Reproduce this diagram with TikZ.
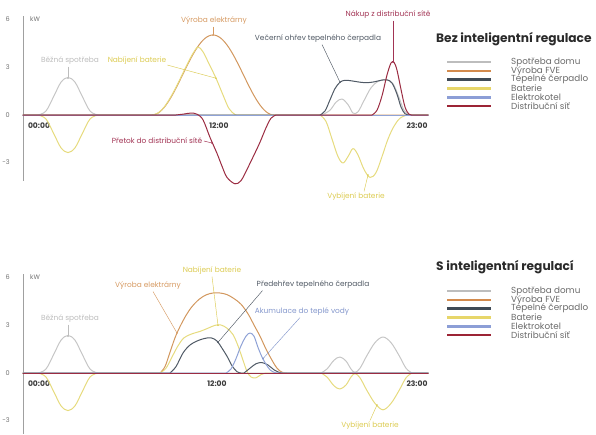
\documentclass[tikz,border=0pt]{standalone}
\usepackage{fontspec}
\setmainfont{Poppins}
\definecolor{cSp}{HTML}{C6C6C6}
\definecolor{cFv}{HTML}{D2975E}
\definecolor{cTc}{HTML}{505A66}
\definecolor{cBa}{HTML}{E6DB7E}
\definecolor{cEk}{HTML}{8FA2D6}
\definecolor{cDs}{HTML}{9B2C42}
\definecolor{cAx}{HTML}{A0A0A0}
\definecolor{cNum}{HTML}{707070}
\definecolor{cTime}{HTML}{3A3A3A}
\definecolor{tSp}{HTML}{BDBDBD}
\definecolor{tBa}{HTML}{DCCB52}
\definecolor{tFv}{HTML}{D69A62}
\definecolor{tDs}{HTML}{A23454}
\definecolor{tTc}{HTML}{4F5863}
\definecolor{tEk}{HTML}{8497CC}
\definecolor{tLeg}{HTML}{6A6A6A}
\definecolor{tTitle}{HTML}{2A2A2A}
\definecolor{lSp}{HTML}{BDBDBD}
\definecolor{lFv}{HTML}{D38B4E}
\definecolor{lTc}{HTML}{3F4A56}
\definecolor{lBa}{HTML}{E7D66A}
\definecolor{lEk}{HTML}{8C9ED6}
\definecolor{lDs}{HTML}{9C2435}
\begin{document}
\begin{tikzpicture}[x=1pt,y=-1pt,
 crv/.style={line width=1.0pt,line join=round,line cap=round},
 lbl/.style={font=\fontsize{7.4}{8}\selectfont,inner sep=0pt},
 num/.style={font=\fontsize{6.5}{7}\selectfont,inner sep=0pt,text=cNum,anchor=east},
 tim/.style={font=\bfseries\fontsize{7.6}{8}\selectfont,inner sep=0pt,text=cTime},
 ldr/.style={line width=0.45pt},
 leg/.style={font=\fontsize{8.8}{10}\selectfont,inner sep=0pt,anchor=west,text=tLeg},
 sw/.style={line width=2.6pt},
 ttl/.style={font=\bfseries\fontsize{12.2}{14}\selectfont,inner sep=0pt,anchor=west,text=tTitle},
 sm/.style={smooth,tension=0.55},
 axl/.style={cAx,line width=0.8pt}]
\useasboundingbox (0,0) rectangle (596,434);

% ================= TOP CHART =================
\draw[axl] (23,16) -- (23,181);
\draw[axl] (23,115) -- (428,115);
\node[num] (n6A) at (10,19) {6};
\node[num] (n3A) at (10,67) {3};
\node[num] (n0A) at (10,115) {0};
\node[num] (nm3A) at (10,162) {-3};
\node[num,anchor=west] (kwA) at (30,19) {kW};
\node[tim] (t0A) at (39,126) {00:00};
\node[tim] (t12A) at (219,126) {12:00};
\node[tim] (t23A) at (417,126) {23:00};

\begin{scope}[yshift=-115pt,y=16pt]
\draw[crv,cFv] (23,0) -- (152,0) -- plot[domain=152:274,samples=61] (\x,{2.5*(1-cos(2.9508*(\x-152)))}) -- (428,0);
\draw[crv,cBa] (23,0) -- plot[sm] coordinates {(38,0) (46,-0.25) (54,-1.2) (61,-2.05) (68,-2.35) (75,-2.05) (82,-1.2) (90,-0.25) (98,0)}
 -- plot[sm] coordinates {(152,0) (158,0.12) (164,0.48) (170,1.05) (176,1.73) (182,2.5) (188,3.27) (193,3.85) (198,4.25) (203,3.95) (209,3.2) (216,2.3) (223,1.25) (229,0.4) (235,0.03) (238,0)}
 -- plot[sm] coordinates {(320,0) (326,-0.4) (332,-1.5) (338,-2.6) (343,-3.0) (348,-2.6) (353,-2.1) (358,-2.5) (364,-3.4) (370,-3.9) (376,-3.6) (382,-2.6) (388,-1.5) (394,-0.7) (400,-0.2) (407,0)} -- (428,0);
\draw[crv,cSp] (23,0) -- plot[sm] coordinates {(38,0) (46,0.25) (54,1.2) (61,2.05) (68,2.35) (75,2.05) (82,1.2) (90,0.25) (98,0)}
 -- plot[sm] coordinates {(322,0) (330,0.3) (336,0.8) (342,1.0) (348,0.65) (353,0.12) (358,0.2) (364,0.9) (371,1.7) (378,2.1) (386,2.2) (393,1.95) (399,1.1) (404,0.3) (410,0)} -- (428,0);
\draw[crv,cTc] (23,0) -- plot[sm] coordinates {(320,0) (325,0.25) (330,0.95) (335,1.65) (340,2.05) (345,2.17) (352,2.13) (360,2.05) (367,2.02) (374,2.07) (381,2.17) (387,2.2) (392,2.0) (397,1.3) (401,0.5) (405,0.08) (409,0)} -- (428,0);
\draw[crv,cEk] (23,0) -- (428,0);
\draw[crv,cDs] (23,0) -- plot[sm] coordinates {(176,0) (184,0.06) (191,0.12) (197,0.05) (203,-0.3) (210,-1.4) (217,-2.4) (222,-3.2) (227,-3.9) (235,-4.3) (241,-4.1) (247,-3.4) (254,-2.5) (260,-1.7) (266,-0.8) (271,-0.2) (276,0)}
 -- plot[sm] coordinates {(372,0) (377,0.3) (382,1.2) (387,2.5) (391,3.25) (394,3.3) (397,2.8) (401,1.6) (405,0.5) (409,0.05) (413,0)} -- (428,0);
\coordinate (pBsA) at (68,2.3);
\coordinate (pNbA) at (216,2.3);
\coordinate (pVeA) at (213,5.0);
\coordinate (pPtA) at (212,-1.75);
\coordinate (pVoA) at (340,2.05);
\coordinate (pNkA) at (393,3.3);
\coordinate (pVbA) at (368,-3.75);
\end{scope}

\node[lbl,text=tSp] (tBsA) at (70,61) {Běžná spotřeba};
\node[lbl,text=tBa] (tNbA) at (137,61) {Nabíjení baterie};
\node[lbl,text=tFv] (tVeA) at (214,21) {Výroba elektrárny};
\node[lbl,text=tDs] (tPtA) at (157,141) {Přetok do distribuční sítě};
\node[lbl,text=tTc] (tVoA) at (318,39) {Večerní ohřev tepelného čerpadla};
\node[lbl,text=tDs] (tNkA) at (388,15) {Nákup z distribuční sítě};
\node[lbl,text=tBa] (tVbA) at (356,197) {Vybíjení baterie};
\draw[ldr,tSp] ([yshift=-1.5pt]pBsA |- tBsA.south) -- (pBsA);
\fill[tSp] (pBsA) circle (0.9pt);
\draw[ldr,tBa] ([xshift=1pt]tNbA.south east) -- (pNbA);
\fill[tBa] (pNbA) circle (0.9pt);
\draw[ldr,tFv] ([yshift=-1.5pt]pVeA |- tVeA.south) -- (pVeA);
\fill[tFv] (pVeA) circle (0.9pt);
\draw[ldr,tDs] ([xshift=1.5pt]tPtA.east) -- (pPtA);
\fill[tDs] (pPtA) circle (0.9pt);
\draw[ldr,tTc] ([xshift=4pt,yshift=-1.5pt]tVoA.south) -- (pVoA);
\fill[tTc] (pVoA) circle (0.9pt);
\draw[ldr,tDs] ([yshift=-1.5pt]pNkA |- tNkA.south) -- (pNkA);
\fill[tDs] (pNkA) circle (0.9pt);
\draw[ldr,tBa] ([xshift=8pt,yshift=1.5pt]tVbA.north) -- (pVbA);
\fill[tBa] (pVbA) circle (0.9pt);

% legend top
\node[ttl] (ttlA) at (436,39) {Bez inteligentní regulace};
\draw[sw,lSp] (447,62) -- (491,62);
\draw[sw,lFv] (447,70.8) -- (491,70.8);
\draw[sw,lTc] (447,79.6) -- (491,79.6);
\draw[sw,lBa] (447,88.4) -- (491,88.4);
\draw[sw,lEk] (447,97.2) -- (491,97.2);
\draw[sw,lDs] (447,106) -- (491,106);
\node[leg] (lA1) at (511,62) {Spotřeba domu};
\node[leg] (lA2) at (511,70.8) {Výroba FVE};
\node[leg] (lA3) at (511,79.6) {Tepelné čerpadlo};
\node[leg] (lA4) at (511,88.4) {Baterie};
\node[leg] (lA5) at (511,97.2) {Elektrokotel};
\node[leg] (lA6) at (511,106) {Distribuční síť};

% ================= BOTTOM CHART =================
\draw[axl] (23,274) -- (23,434);
\draw[axl] (23,373) -- (428,373);
\node[num] (n6B) at (10,277) {6};
\node[num] (n3B) at (10,325) {3};
\node[num] (n0B) at (10,373) {0};
\node[num] (nm3B) at (10,420) {-3};
\node[num,anchor=west] (kwB) at (30,277) {kW};
\node[tim] (t0B) at (39,384) {00:00};
\node[tim] (t12B) at (217,384) {12:00};
\node[tim] (t23B) at (417,384) {23:00};

\begin{scope}[yshift=-373pt,y=16pt]
\draw[crv,cFv] (23,0) -- plot[sm] coordinates {(160,0) (165,0.4) (170,1.3) (175,2.2) (180,2.9) (186,3.6) (192,4.15) (199,4.6) (206,4.88) (213,5.0) (220,5.0) (227,4.9) (234,4.65) (241,4.3) (248,3.7) (254,3.0) (260,2.3) (266,1.5) (272,0.8) (277,0.3) (282,0.05) (287,0)} -- (428,0);
\draw[crv,cBa] (23,0) -- plot[sm] coordinates {(38,0) (46,-0.25) (54,-1.2) (61,-2.05) (68,-2.35) (75,-2.05) (82,-1.2) (90,-0.25) (98,0)}
 -- plot[sm] coordinates {(160,0) (166,0.3) (172,1.0) (178,1.7) (184,2.2) (192,2.45) (200,2.6) (208,2.8) (215,2.98) (221,3.0) (227,2.8) (233,2.4) (238,1.7) (243,0.8) (247,0.1) (251,-0.25) (256,-0.3) (261,-0.1) (266,0)}
 -- plot[sm] coordinates {(321,0) (327,-0.25) (334,-0.8) (340,-1.0) (346,-0.75) (351,-0.25) (355,-0.04) (360,-0.3) (367,-1.1) (375,-1.9) (383,-2.3) (391,-1.9) (399,-1.1) (406,-0.3) (412,0)} -- (428,0);
\draw[crv,cSp] (23,0) -- plot[sm] coordinates {(38,0) (46,0.25) (54,1.2) (61,2.05) (68,2.35) (75,2.05) (82,1.2) (90,0.25) (98,0)}
 -- plot[sm] coordinates {(321,0) (327,0.25) (334,0.8) (340,1.0) (346,0.75) (351,0.25) (355,0.04) (360,0.3) (367,1.1) (375,1.9) (383,2.25) (391,1.9) (399,1.1) (406,0.3) (412,0)} -- (428,0);
\draw[crv,cTc] (23,0) -- plot[sm] coordinates {(170,0) (176,0.4) (183,1.25) (190,1.75) (197,2.0) (204,2.15) (211,2.2) (217,2.0) (222,1.55) (227,1.05) (232,0.45) (237,0.08) (241,0)}
 -- plot[sm] coordinates {(244,0) (250,0.3) (256,0.58) (262,0.65) (268,0.5) (274,0.2) (280,0.02) (284,0)} -- (428,0);
\draw[crv,cEk] (23,0) -- plot[sm] coordinates {(226,0) (231,0.25) (236,0.9) (241,1.7) (246,2.3) (250,2.5) (254,2.3) (258,1.6) (262,1.0) (266,0.55) (270,0.2) (275,0.02) (280,0)} -- (428,0);
\draw[crv,cDs] (23,0) -- (428,0);
\coordinate (pBsB) at (68,2.3);
\coordinate (pVeB) at (177,2.5);
\coordinate (pNbB) at (218,2.98);
\coordinate (pPhB) at (218,1.92);
\coordinate (pAkB) at (263,0.9);
\coordinate (pVbB) at (377,-2.0);
\end{scope}

\node[lbl,text=tSp] (tBsB) at (70,319) {Běžná spotřeba};
\node[lbl,text=tFv] (tVeB) at (148,286) {Výroba elektrárny};
\node[lbl,text=tBa] (tNbB) at (212,271) {Nabíjení baterie};
\node[lbl,text=tTc] (tPhB) at (313,285) {Předehřev tepelného čerpadla};
\node[lbl,text=tEk] (tAkB) at (302,312) {Akumulace do teplé vody};
\node[lbl,text=tBa] (tVbB) at (370,426) {Vybíjení baterie};
\draw[ldr,tSp] ([yshift=-1.5pt]pBsB |- tBsB.south) -- (pBsB);
\fill[tSp] (pBsB) circle (0.9pt);
\draw[ldr,tFv] ([xshift=5pt,yshift=-1.5pt]tVeB.south) -- (pVeB);
\fill[tFv] (pVeB) circle (0.9pt);
\draw[ldr,tBa] ([yshift=-1.5pt]tNbB.south) -- (pNbB);
\fill[tBa] (pNbB) circle (0.9pt);
\draw[ldr,tTc] ([xshift=6pt,yshift=-1.5pt]tPhB.south west) -- (pPhB);
\fill[tTc] (pPhB) circle (0.9pt);
\draw[ldr,tEk] ([xshift=-2pt,yshift=-1.5pt]tAkB.south) -- (pAkB);
\fill[tEk] (pAkB) circle (0.9pt);
\draw[ldr,tBa] ([yshift=1.5pt]tVbB.north) -- (pVbB);
\fill[tBa] (pVbB) circle (0.9pt);

% legend bottom
\node[ttl] (ttlB) at (436,267) {S inteligentní regulací};
\draw[sw,lSp] (447,291) -- (491,291);
\draw[sw,lFv] (447,299.8) -- (491,299.8);
\draw[sw,lTc] (447,308.6) -- (491,308.6);
\draw[sw,lBa] (447,317.4) -- (491,317.4);
\draw[sw,lEk] (447,326.2) -- (491,326.2);
\draw[sw,lDs] (447,335) -- (491,335);
\node[leg] (lB1) at (511,291) {Spotřeba domu};
\node[leg] (lB2) at (511,299.8) {Výroba FVE};
\node[leg] (lB3) at (511,308.6) {Tepelné čerpadlo};
\node[leg] (lB4) at (511,317.4) {Baterie};
\node[leg] (lB5) at (511,326.2) {Elektrokotel};
\node[leg] (lB6) at (511,335) {Distribuční síť};
\end{tikzpicture}
\end{document}
